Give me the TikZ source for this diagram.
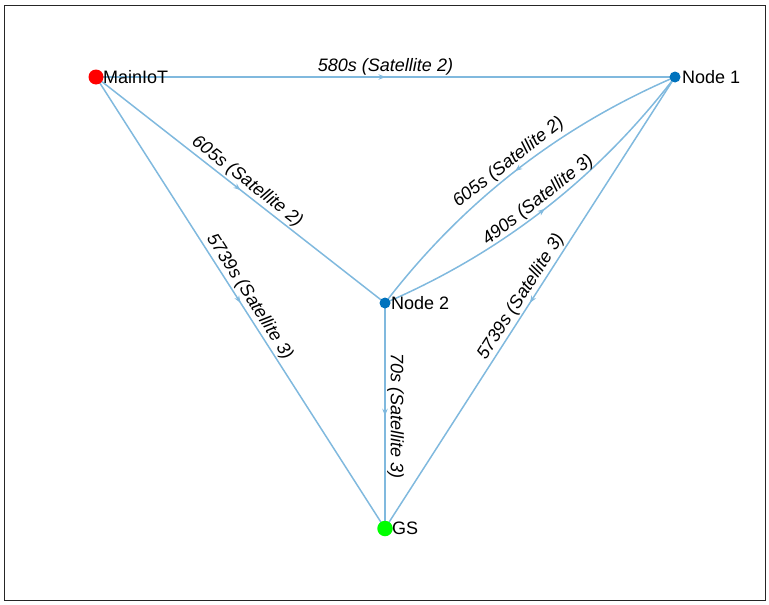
\documentclass[tikz,border=0pt]{standalone}
\usepackage{fontspec}
\setmainfont{Liberation Sans}
\usetikzlibrary{arrows.meta,decorations.markings}
\definecolor{edgec}{RGB}{128,185,222}
\definecolor{nodeblue}{RGB}{0,114,189}
\definecolor{framec}{RGB}{38,38,38}
\begin{document}
\begin{tikzpicture}[x=1pt,y=-1pt,
  edge/.style={color=edgec, line width=1.5pt, postaction={decorate},
    decoration={markings, mark=at position 0.5 with {\arrow{Stealth[length=7pt,width=5.5pt]}}}},
  lab/.style={font=\fontsize{18}{20}\selectfont\itshape, text=black, sloped, above, inner sep=1.5pt},
  dot/.style={circle, fill, inner sep=0pt, draw=none},
  nodetext/.style={font=\fontsize{18}{20}\selectfont, text=black, anchor=base west, inner sep=0pt}]
\useasboundingbox (0,0) rectangle (769,605);
\draw[framec, line width=0.9pt] (4.5,5.5) rectangle (765,600.5);
\coordinate (m) at (96,77);
\coordinate (n1) at (675,77);
\coordinate (n2) at (385,303);
\coordinate (gs) at (385,528.5);
\draw[edge] (m) -- node[lab] {580s (Satellite 2)} (n1);
\draw[edge] (m) -- node[lab] {605s (Satellite 2)} (n2);
\draw[edge] (m) -- node[lab] {5739s (Satellite 3)} (gs);
\draw[edge] (n1) .. controls (558.7,127) and (462,202.4) .. node[lab] {605s (Satellite 2)} (n2);
\draw[edge] (n2) .. controls (501.3,253) and (597.9,177.6) .. node[lab] {490s (Satellite 3)} (n1);
\draw[edge] (n1) -- node[lab] {5739s (Satellite 3)} (gs);
\draw[edge] (n2) -- node[lab] {70s (Satellite 3)} (gs);
\node[dot, fill=red, minimum size=15pt] (mdot) at (m) {};
\node[dot, fill=nodeblue, minimum size=11pt] (n1dot) at (n1) {};
\node[dot, fill=nodeblue, minimum size=11pt] (n2dot) at (n2) {};
\node[dot, fill=green, minimum size=15.5pt] (gsdot) at (gs) {};
\node[nodetext] (mlab) at ([shift={(7,6.3)}]m) {MainIoT};
\node[nodetext] (n1lab) at ([shift={(7,6.3)}]n1) {Node 1};
\node[nodetext] (n2lab) at ([shift={(6,6.3)}]n2) {Node 2};
\node[nodetext] (gslab) at ([shift={(7,6.3)}]gs) {GS};
\end{tikzpicture}
\end{document}
